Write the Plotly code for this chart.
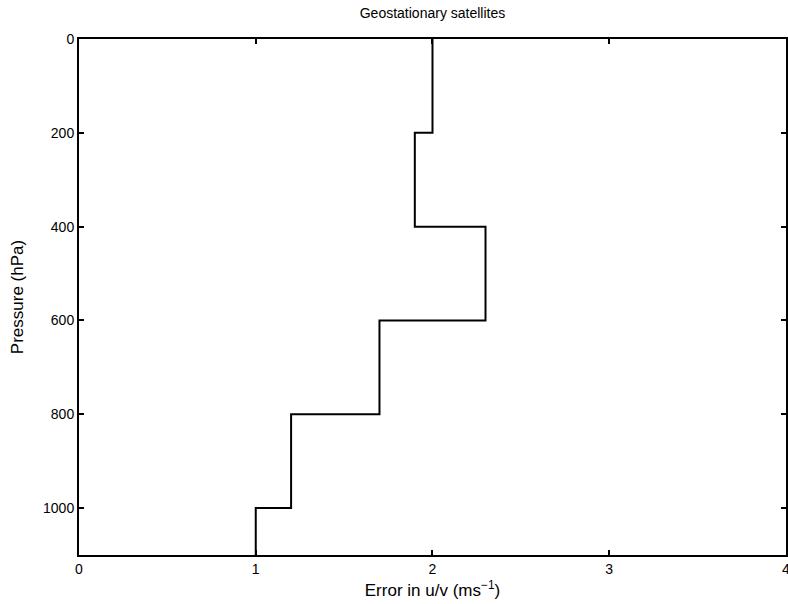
import plotly.graph_objects as go

pressure_levels = [0, 200, 400, 600, 800, 1000, 1100]
errors = [2.0, 1.9, 2.3, 1.7, 1.2, 1.0, 1.0]
x_ticks = [0, 1, 2, 3, 4]
y_ticks = [0, 200, 400, 600, 800, 1000]

fig = go.Figure()
fig.add_trace(go.Scatter(
    x=errors, y=pressure_levels, mode="lines",
    line=dict(color="black", width=2, shape="vh"),
    showlegend=False, hoverinfo="skip",
))

font = dict(family="Liberation Sans, Arial, sans-serif", size=14, color="black")
fig.update_layout(
    width=788, height=604,
    margin=dict(l=79, r=2, t=39, b=49),
    paper_bgcolor="white", plot_bgcolor="white",
    font=font,
    title=dict(text="Geostationary satellites", x=(79 + 786) / 2 / 788, xanchor="center",
               y=1 - 13 / 604, yanchor="middle", font=dict(size=14)),
)
fig.update_xaxes(
    range=[0, 4.0001], tickvals=x_ticks, ticks="inside", ticklen=5, tickwidth=2, tickcolor="black",
    showline=True, linecolor="black", linewidth=2, mirror="ticks", showgrid=False, zeroline=False,
    ticklabeloverflow="allow", automargin=False,
    title=dict(text="Error in u/v (ms<sup>\u22121</sup>)", standoff=8),
)
fig.update_yaxes(
    range=[1100, 0], tickvals=y_ticks, ticks="inside", ticklen=5, tickwidth=2, tickcolor="black",
    showline=True, linecolor="black", linewidth=2, mirror="ticks", showgrid=False, zeroline=False,
    automargin=False,
    title=dict(text="Pressure (hPa)", standoff=15),
)
fig.write_html("out.html")
